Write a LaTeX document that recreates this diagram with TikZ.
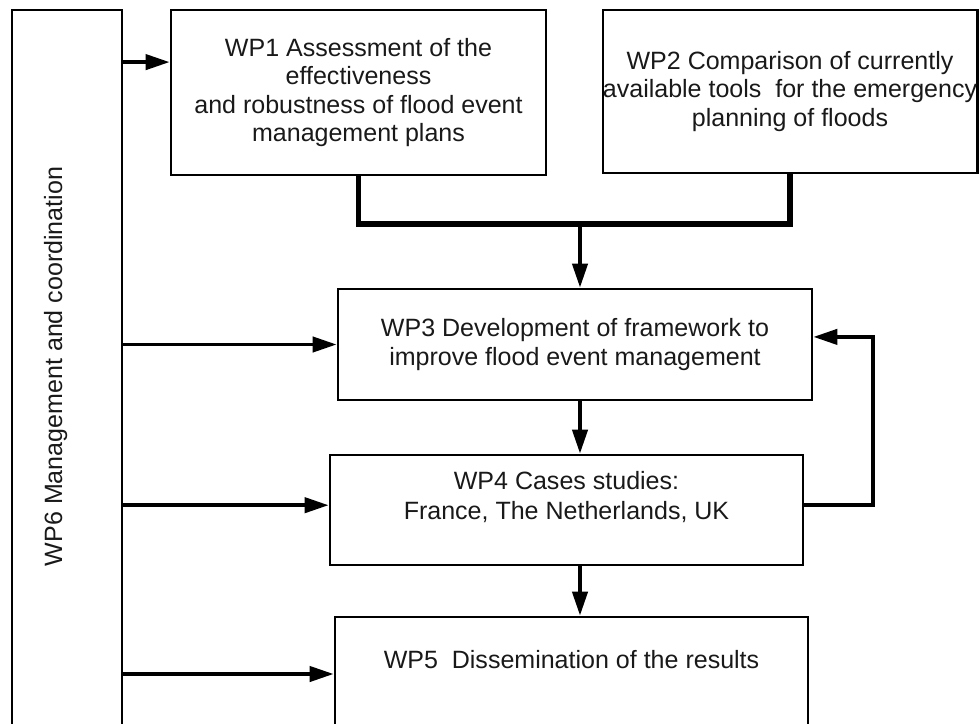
\documentclass[tikz,border=0pt]{standalone}
\usepackage{fontspec}
\setmainfont{Liberation Sans}
\usetikzlibrary{arrows.meta}

\begin{document}
\begin{tikzpicture}[
    box/.style={draw, line width=2pt, inner xsep=0pt, align=center, text=black!90,
                font=\fontsize{17.8}{21.3}\selectfont},
    topbox/.style={box, font=\fontsize{17.8}{20.3}\selectfont},
    arrow/.style={-{Triangle[length=0.6cm, width=0.38cm]}, line width=2.6pt},
    joinline/.style={line width=3.6pt}
  ]
    \useasboundingbox (0,0) rectangle (24.5,-18.1);

    \node[box, minimum width=2.75cm, minimum height=18.25cm] (wp6) at (1.675,-9.375) {};
    \node[rotate=90, text=black!90, font=\fontsize{17.8}{21.3}\selectfont] (wp6label) at (1.39,-9.16) {WP6 Management and coordination};

    \node[topbox, minimum width=9.375cm, minimum height=4.125cm] (wp1) at (8.9625,-2.3125)
        {WP1 Assessment of the\\effectiveness\\and robustness of flood event\\management plans};
    \node[topbox, minimum width=9.35cm, minimum height=4.075cm] (wp2) at (19.75,-2.2875)
        {WP2 Comparison of currently\\available tools~ for the emergency\\planning of floods};
    \node[box, minimum width=11.85cm, minimum height=2.775cm] (wp3) at (14.375,-8.6125)
        {WP3 Development of framework to\\improve flood event management};
    \node[box, minimum width=11.825cm, minimum height=2.75cm] (wp4) at (14.1625,-12.75)
        {WP4 Cases studies:\\France, The Netherlands, UK\\\mbox{}};
    \node[box, minimum width=11.825cm, minimum height=2.85cm] (wp5) at (14.2875,-16.85)
        {WP5~ Dissemination of the results\\\mbox{}};

    % WP1 and WP2 feed into WP3
    \coordinate (join) at (14.5,-5.6);
    \draw[joinline] (wp1.south) |- (join) -| (wp2.south);
    \draw[arrow] (join) -- (join |- wp3.north);
    \draw[arrow] (wp3.south -| join) -- (wp4.north -| join);
    \draw[arrow] (wp4.south -| join) -- (wp5.north -| join);

    % feedback from the case studies
    \coordinate (loop) at (21.825,0);
    \coordinate (wp4out) at ([yshift=0.12cm]wp4.east);
    \coordinate (wp3in) at ([yshift=0.19cm]wp3.east);
    \draw[arrow] (wp4out) -| (loop |- wp3in) -- (wp3in);

    % coordination arrows
    \coordinate (wp1in) at ([yshift=0.76cm]wp1.west);
    \coordinate (wp4in) at ([yshift=0.12cm]wp4.west);
    \draw[arrow] (wp6.east |- wp1in) -- (wp1in);
    \draw[arrow] (wp6.east |- wp3.west) -- (wp3.west);
    \draw[arrow] (wp6.east |- wp4in) -- (wp4in);
    \draw[arrow] (wp6.east |- wp5.west) -- (wp5.west);
\end{tikzpicture}
\end{document}
